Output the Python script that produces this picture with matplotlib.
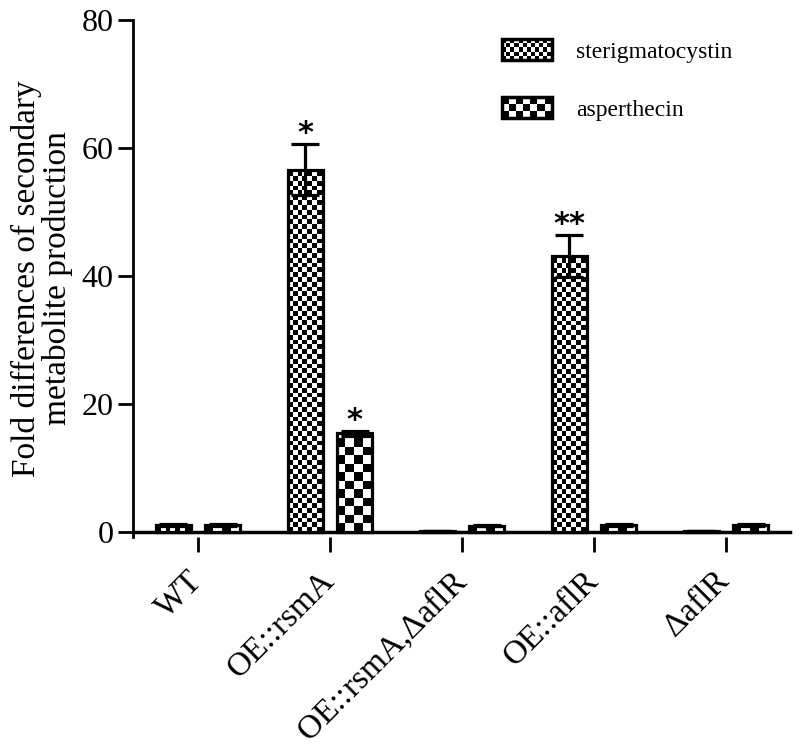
import numpy as np
import matplotlib
matplotlib.use('Agg')
import matplotlib.pyplot as plt
from matplotlib.patches import Rectangle
from matplotlib.legend_handler import HandlerBase

plt.rcParams['mathtext.fontset'] = 'custom'
plt.rcParams['mathtext.rm'] = 'Liberation Serif'
plt.rcParams['mathtext.it'] = 'Liberation Serif:italic'

categories = ['WT', 'OE::rsmA', r'OE::rsmA,$\mathit{\Delta}$aflR', 'OE::aflR', r'$\mathit{\Delta}$aflR']
series_names = ['sterigmatocystin', 'asperthecin']
sterig = [1.1, 56.6, 0.15, 43.1, 0.1]
sterig_err = [0.1, 4.0, 0.02, 3.3, 0.02]
asper = [1.1, 15.4, 1.0, 1.1, 1.1]
asper_err = [0.1, 0.4, 0.1, 0.1, 0.1]
sig_sterig = ['', '*', '', '**', '']
sig_asper = ['', '*', '', '', '']
yticks = [0, 20, 40, 60, 80]

SERIF = 'Liberation Serif'
DPI = 100
FW, FH = 800, 747
fig = plt.figure(figsize=(FW / DPI, FH / DPI), dpi=DPI)
left_px, right_px, top_px, bottom_px = 133, 790, 20, 537.1
ax = fig.add_axes([left_px / FW, 1 - bottom_px / FH,
                   (right_px - left_px) / FW, (bottom_px - top_px) / FH])
XLIM = (-0.492, 4.485)
YLIM = (-0.8, 80)
ax.set_xlim(*XLIM)
ax.set_ylim(*YLIM)

px_per_x = (right_px - left_px) / (XLIM[1] - XLIM[0])
px_per_y = (bottom_px - top_px) / (YLIM[1] - YLIM[0])

x = np.arange(len(categories))
w = 0.265
off = 0.186


def checker_fill(bars, cell_px):
    for b in bars:
        x0 = b.get_x()
        bw = b.get_width()
        bh = b.get_height()
        nx = max(1, int(np.ceil(bw * px_per_x / cell_px)))
        ny = max(1, int(np.ceil(bh * px_per_y / cell_px)))
        arr = (np.add.outer(np.arange(ny), np.arange(nx)) % 2).astype(float)
        ext = [x0, x0 + nx * cell_px / px_per_x, 0, ny * cell_px / px_per_y]
        im = ax.imshow(arr, cmap='gray', vmin=0, vmax=1, origin='lower',
                       extent=ext, interpolation='nearest', aspect='auto', zorder=3)
        im.set_clip_path(b)


bars_s = ax.bar(x - off, sterig, w, facecolor='none', edgecolor='black', lw=2.3, zorder=4)
bars_a = ax.bar(x + off, asper, w, facecolor='none', edgecolor='black', lw=2.3, zorder=4)
checker_fill(bars_s, 4.8)
checker_fill(bars_a, 8.5)
ax.set_xlim(*XLIM)
ax.set_ylim(*YLIM)

ax.errorbar(x - off, sterig, yerr=sterig_err, fmt='none', ecolor='black',
            elinewidth=2.3, capsize=10, capthick=2.3, zorder=5)
ax.errorbar(x + off, asper, yerr=asper_err, fmt='none', ecolor='black',
            elinewidth=2.3, capsize=10, capthick=2.3, zorder=5)

for xs, vals, errs, sigs in [(x - off, sterig, sterig_err, sig_sterig),
                             (x + off, asper, asper_err, sig_asper)]:
    for xi, v, e, s in zip(xs, vals, errs, sigs):
        if s:
            ax.annotate(s, xy=(xi, v + e), xytext=(0, -3), textcoords='offset points',
                        ha='center', va='bottom', fontsize=22, fontweight='bold',
                        family='DejaVu Sans')

for s in ['top', 'right']:
    ax.spines[s].set_visible(False)
ax.spines['left'].set_linewidth(2)
ax.spines['bottom'].set_linewidth(2.5)
ax.spines['bottom'].set_position(('data', 0))

ax.set_yticks(yticks)
ax.set_yticklabels([str(t) for t in yticks], family=SERIF, fontsize=23)
ax.tick_params(axis='y', direction='out', length=11, width=2, pad=3)
ax.tick_params(axis='x', bottom=False, labelbottom=False)

sec = ax.secondary_xaxis(0)
sec.spines['bottom'].set_visible(False)
sec.set_xticks(x)
sec.set_xticklabels(categories, rotation=45, ha='right', va='center',
                    rotation_mode='anchor', family=SERIF, fontsize=24)
sec.tick_params(axis='x', direction='out', length=11, width=2, pad=17)

ax.set_ylabel('Fold differences of secondary\nmetabolite production', family=SERIF,
              fontsize=24, linespacing=1.0)
ax.yaxis.set_label_coords(-0.092, 0.5)


class HandlerChecker(HandlerBase):
    def __init__(self, ncols):
        super().__init__()
        self.ncols = ncols

    def create_artists(self, legend, orig_handle, xdescent, ydescent, width, height,
                       fontsize, trans):
        x0, y0 = -xdescent, -ydescent
        cell = width / self.ncols
        nrows = max(1, int(round(height / cell)))
        ch = height / nrows
        arts = [Rectangle((x0, y0), width, height, facecolor='white', edgecolor='none',
                          transform=trans)]
        for i in range(nrows):
            for j in range(self.ncols):
                if (i + j) % 2 == 0:
                    arts.append(Rectangle((x0 + j * cell, y0 + i * ch), cell, ch,
                                          facecolor='black', edgecolor='none', transform=trans))
        arts.append(Rectangle((x0, y0), width, height, facecolor='none', edgecolor='black',
                              lw=2.5, transform=trans))
        return arts


p1 = Rectangle((0, 0), 1, 1)
p2 = Rectangle((0, 0), 1, 1)
leg = ax.legend([p1, p2], series_names, handler_map={p1: HandlerChecker(12), p2: HandlerChecker(7)},
                loc='upper left', bbox_to_anchor=(502 / FW, 1 - 39 / FH),
                bbox_transform=fig.transFigure, frameon=False, borderpad=0, borderaxespad=0,
                handlelength=2.1, handleheight=1.0, handletextpad=1.05, labelspacing=1.45,
                prop={'family': SERIF, 'size': 17})

fig.savefig('out.png', dpi=DPI)
